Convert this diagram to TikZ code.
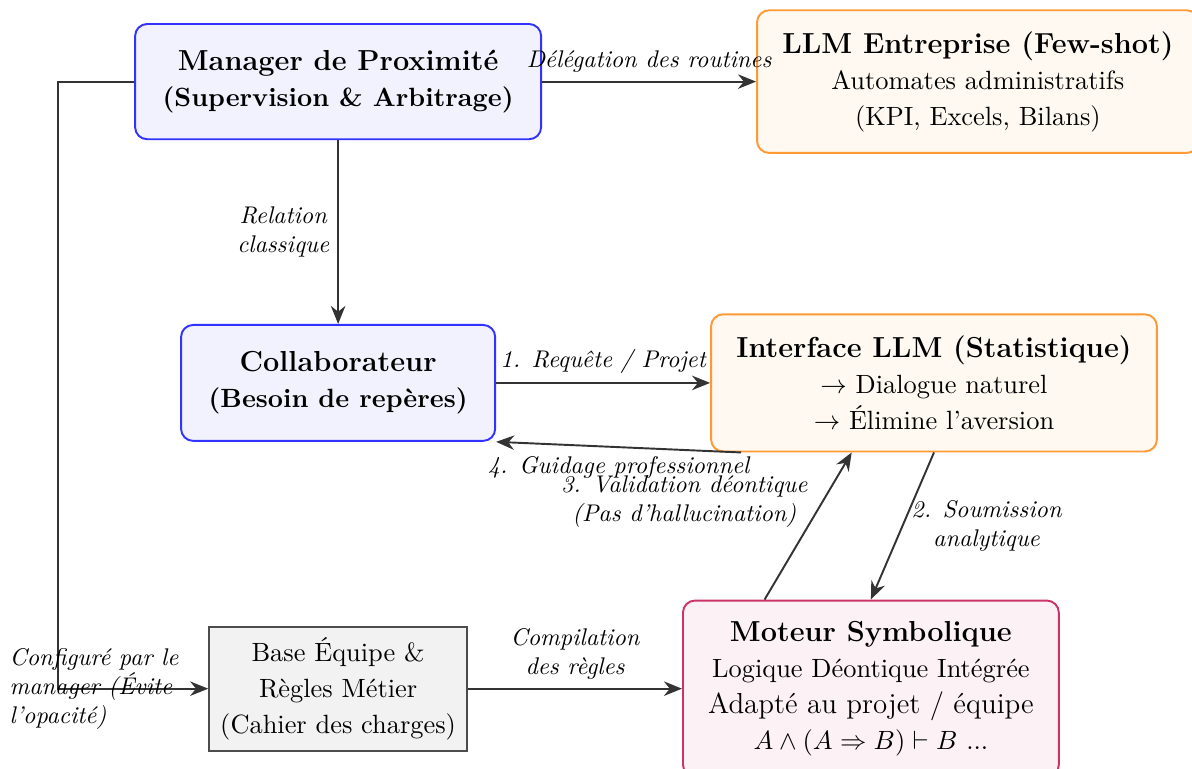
\documentclass[tikz,border=0pt]{standalone}
\usepackage{tikz}
\usepackage{amsmath}
\usepackage{amssymb}
\usepackage{xcolor}
\usetikzlibrary{arrows.meta,positioning,calc}

\begin{document}
\begin{tikzpicture}[node distance=2.68cm and 3.12cm, auto,
    every node/.style={font=\fontsize{10.95}{14.9}\selectfont},
    box/.style={rectangle, rounded corners=5pt, thick, align=center, inner sep=6pt},
    human/.style={box, draw=blue!80, fill=blue!5},
    llm/.style={box, draw=orange!80, fill=orange!5},
    symb/.style={box, draw=purple!80, fill=purple!5},
    rulebox/.style={rectangle, thick, draw=black!70, fill=gray!10, align=center},
    flow/.style={-{Stealth[length=7.5pt,width=6pt]}, thick, draw=black!80},
    lbl/.style={font=\normalsize\itshape}]
    \useasboundingbox (-4.93,1.19) rectangle (12.45,-10.02);

    \node[human, minimum width=5.92cm, minimum height=1.68cm] (manager) at (0,0)
        {{\large\bfseries Manager de Proximité}\\ \textbf{(Supervision \& Arbitrage)}};
    \node[llm, minimum width=6.44cm, minimum height=2.08cm, right=of manager] (llmpro)
        {{\large\bfseries LLM Entreprise (Few-shot)}\\ Automates administratifs\\ (KPI, Excels, Bilans)};
    \node[human, minimum width=4.58cm, minimum height=1.69cm, below=of manager] (collab)
        {{\large\bfseries Collaborateur}\\ \textbf{(Besoin de repères)}};
    \node[llm, minimum width=6.5cm, minimum height=2cm, right=of collab] (interface)
        {{\large\bfseries Interface LLM (Statistique)}\\ $\rightarrow$ Dialogue naturel\\ $\rightarrow$ Élimine l'aversion};
    \node[rulebox, minimum width=3.76cm, minimum height=1.81cm, below=of collab] (rules)
        {Base Équipe \&\\ Règles Métier\\ (Cahier des charges)};
    \node[symb, minimum width=5.48cm, minimum height=2.57cm, right=of rules] (moteur)
        {{\large\bfseries Moteur Symbolique}\\ Logique Déontique Intégrée\\ {\large Adapté au projet / équipe}\\ $A \land (A \Rightarrow B) \vdash B$ ...};

    % Flux principaux
    \draw[flow] (manager) -- node[lbl, above] {Délégation des routines} (llmpro);
    \draw[flow] (manager) -- node[lbl, left, align=center] {Relation\\classique} (collab);
    \draw[flow] (manager.west) -- ++(-1.11,0) |- node[lbl, pos=0.62, anchor=center, align=left]
        {Configuré par le\\manager (Évite\\l'opacité)} (rules.west);
    \draw[flow] (collab) -- node[lbl, above] {1. Requête / Projet} (interface);
    \draw[flow] (interface.south) -- node[lbl, right, align=center] {2. Soumission\\analytique} (moteur.north);
    \draw[flow] ([xshift=-1.55cm]moteur.north) -- node[lbl, above left, xshift=0.12cm, yshift=-0.15cm, align=center]
        {3. Validation déontique\\(Pas d'hallucination)} ([xshift=-1.2cm]interface.south);
    \draw[flow] ([xshift=0.45cm]interface.south west) -- node[lbl, below] {4. Guidage professionnel} (collab.south east);
    \draw[flow] (rules) -- node[lbl, above, align=center] {Compilation\\des règles} (moteur);
\end{tikzpicture}
\end{document}
